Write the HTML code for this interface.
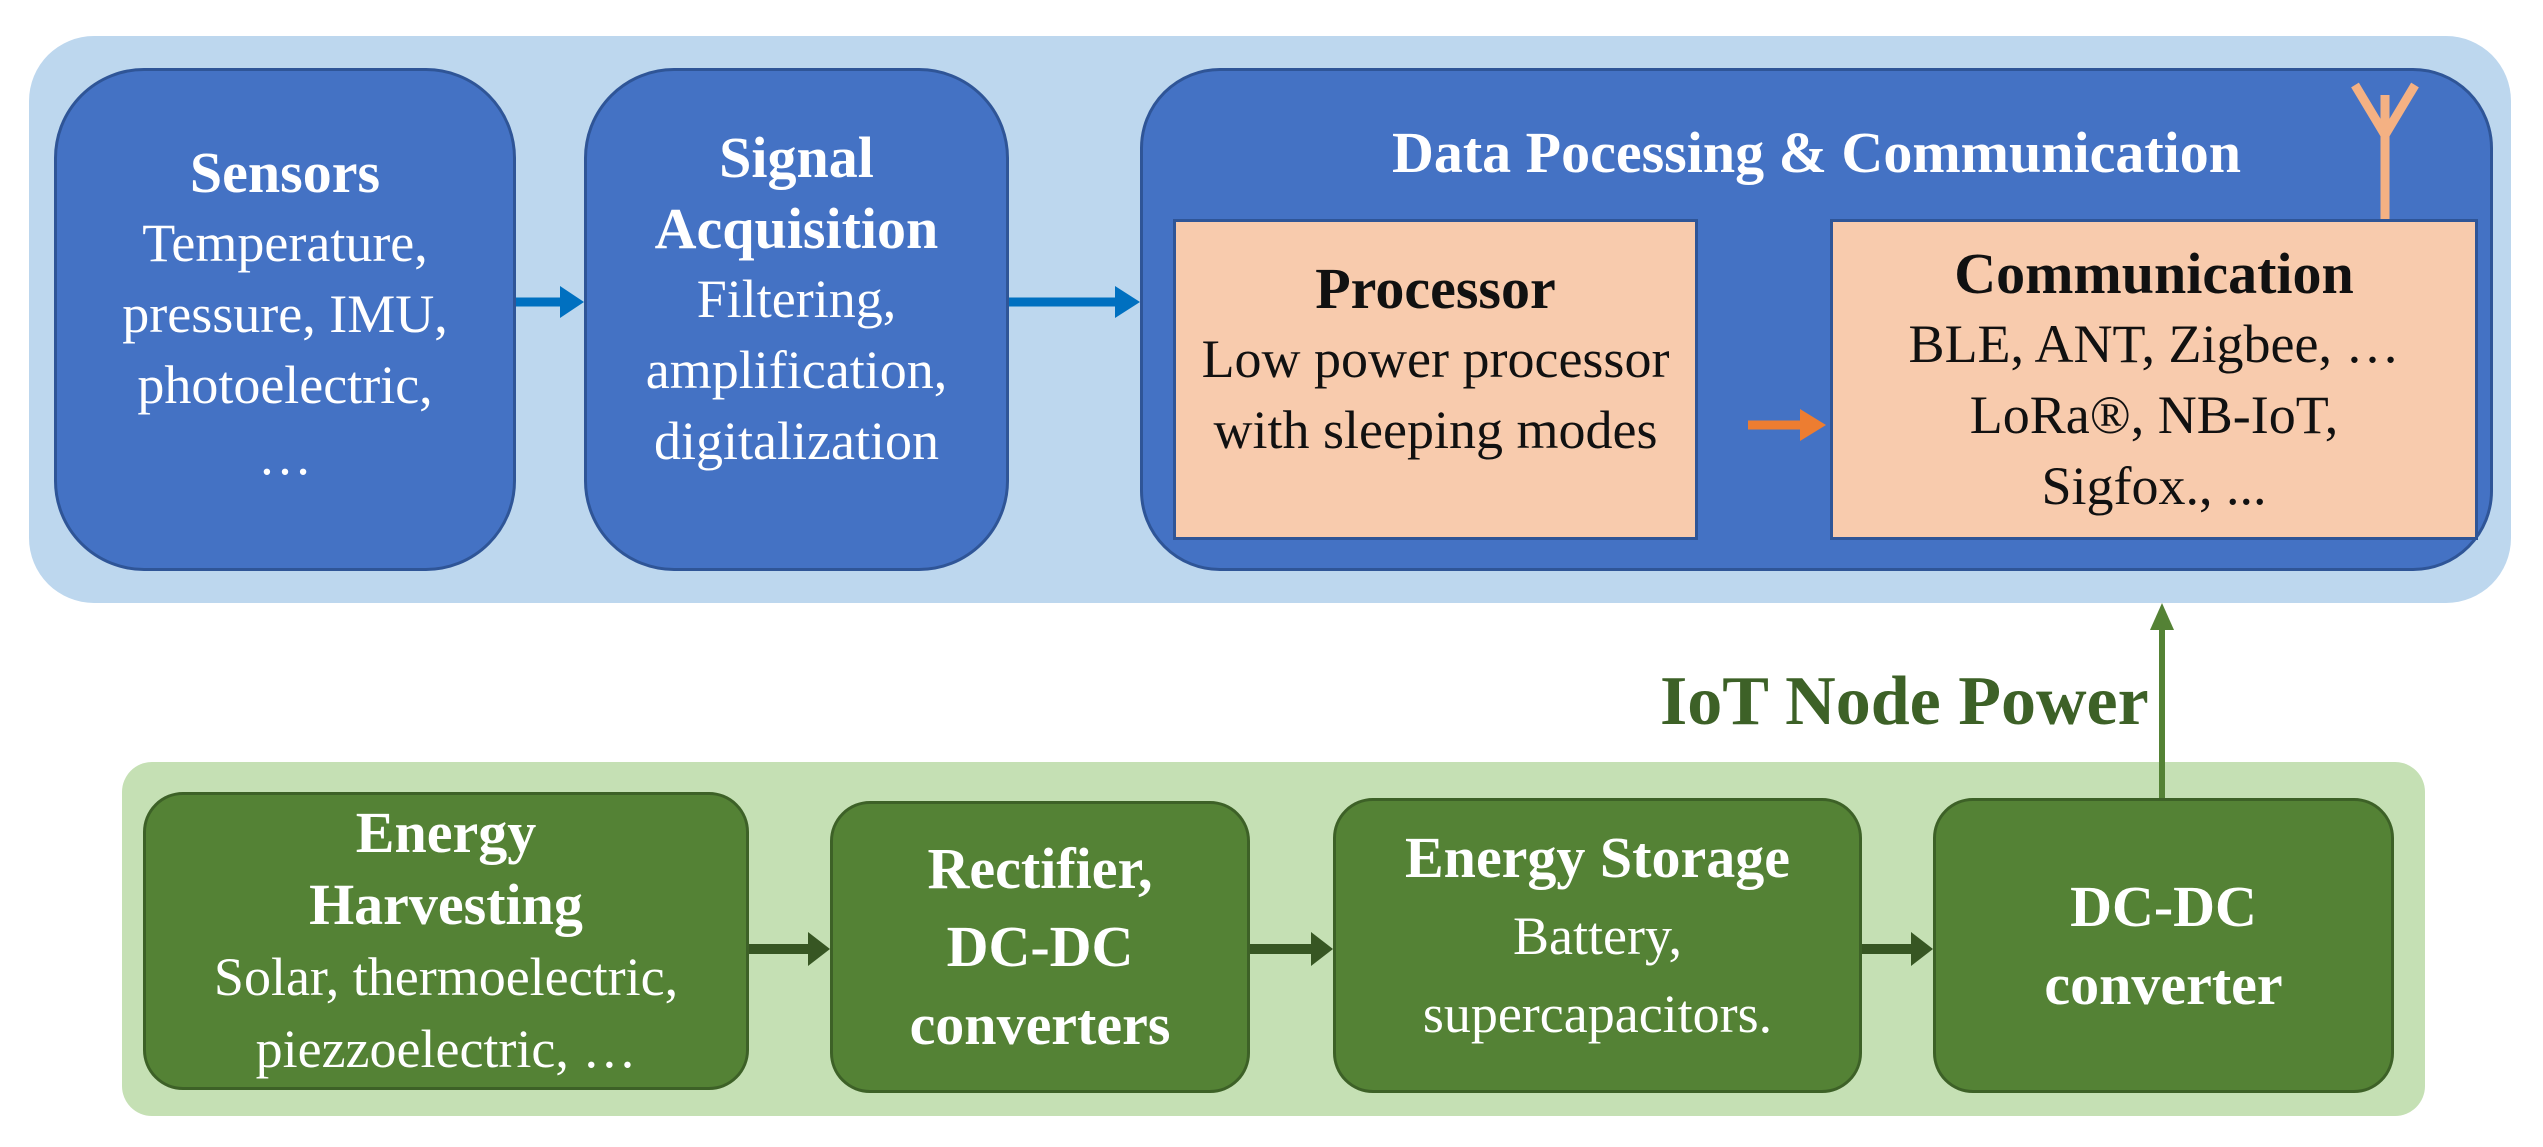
<!DOCTYPE html>
<html><head><style>
body{margin:0;width:2543px;height:1147px;background:#fff;position:relative;overflow:hidden;font-family:"Liberation Serif",serif;}
.a{position:absolute;box-sizing:border-box;}
.box{display:flex;flex-direction:column;justify-content:center;align-items:center;text-align:center;color:#fff;font-size:54px;line-height:71px;}
.b{font-weight:bold;font-size:58px;}
.blue{background:#4472c4;border:3px solid #2f5597;border-radius:90px;}
.green{background:#548235;border:3px solid #3d6127;border-radius:40px;line-height:78px;}
.peach{background:#f8cbad;border:3px solid #2f5597;color:#111;}
</style></head><body>
<div class="a" style="left:29px;top:36px;width:2482px;height:567px;background:#bdd7ee;border-radius:65px;"></div>
<div class="a box blue" style="left:54px;top:68px;width:462px;height:503px;padding-bottom:10px;">
<div class="b">Sensors</div><div>Temperature,</div><div>pressure, IMU,</div><div>photoelectric,</div><div>…</div></div>
<div class="a box blue" style="left:584px;top:68px;width:425px;height:503px;padding-bottom:40px;">
<div class="b">Signal</div><div class="b">Acquisition</div><div>Filtering,</div><div>amplification,</div><div>digitalization</div></div>
<div class="a blue" style="left:1140px;top:68px;width:1353px;height:503px;border-radius:80px;"></div>
<div class="a" style="left:1140px;top:118px;width:1353px;text-align:center;color:#fff;font-weight:bold;font-size:58px;line-height:70px;">Data Pocessing &amp; Communication</div>
<svg class="a" style="left:2340px;top:75px" width="90" height="150"><path d="M45 145 V60 M45 60 L15 10 M45 60 L75 10 M45 60 V20" stroke="#f4b183" stroke-width="9" fill="none"/></svg>
<div class="a box peach" style="left:1173px;top:219px;width:525px;height:321px;padding-bottom:40px;">
<div class="b">Processor</div><div>Low power processor</div><div>with sleeping modes</div></div>
<div class="a box peach" style="left:1830px;top:219px;width:648px;height:321px;">
<div class="b">Communication</div><div>BLE, ANT, Zigbee, …</div><div>LoRa®, NB-IoT,</div><div>Sigfox., ...</div></div>
<svg class="a" style="left:0;top:0" width="2543" height="1147">
<path d="M516 302 H565" stroke="#0070c0" stroke-width="9"/><path d="M560 286 L584 302 L560 318Z" fill="#0070c0"/>
<path d="M1009 302 H1120" stroke="#0070c0" stroke-width="9"/><path d="M1115 286 L1140 302 L1115 318Z" fill="#0070c0"/>
<path d="M1748 425 H1805" stroke="#ed7d31" stroke-width="9"/><path d="M1800 409 L1826 425 L1800 441Z" fill="#ed7d31"/>
</svg>
<div class="a" style="left:122px;top:762px;width:2303px;height:354px;background:#c5e0b4;border-radius:30px;"></div>
<div class="a box green" style="left:143px;top:792px;width:606px;height:298px;line-height:72px;">
<div class="b">Energy</div><div class="b">Harvesting</div><div>Solar, thermoelectric,</div><div>piezzoelectric, …</div></div>
<div class="a box green" style="left:830px;top:801px;width:420px;height:292px;">
<div class="b">Rectifier,</div><div class="b">DC-DC</div><div class="b">converters</div></div>
<div class="a box green" style="left:1333px;top:798px;width:529px;height:295px;padding-bottom:20px;">
<div class="b">Energy Storage</div><div>Battery,</div><div>supercapacitors.</div></div>
<div class="a box green" style="left:1933px;top:798px;width:461px;height:295px;">
<div class="b">DC-DC</div><div class="b">converter</div></div>
<svg class="a" style="left:0;top:0" width="2543" height="1147">
<path d="M749 949 H812" stroke="#375623" stroke-width="10"/><path d="M808 932 L830 949 L808 966Z" fill="#375623"/>
<path d="M1250 949 H1315" stroke="#375623" stroke-width="10"/><path d="M1311 932 L1333 949 L1311 966Z" fill="#375623"/>
<path d="M1862 949 H1915" stroke="#375623" stroke-width="10"/><path d="M1911 932 L1933 949 L1911 966Z" fill="#375623"/>
<path d="M2162 798 V625" stroke="#548235" stroke-width="6"/><path d="M2150 630 L2162 603 L2174 630Z" fill="#548235"/>
</svg>
<div class="a" style="left:1660px;top:662px;color:#3d6127;font-weight:bold;font-size:70px;line-height:80px;">IoT Node Power</div>
</body></html>
